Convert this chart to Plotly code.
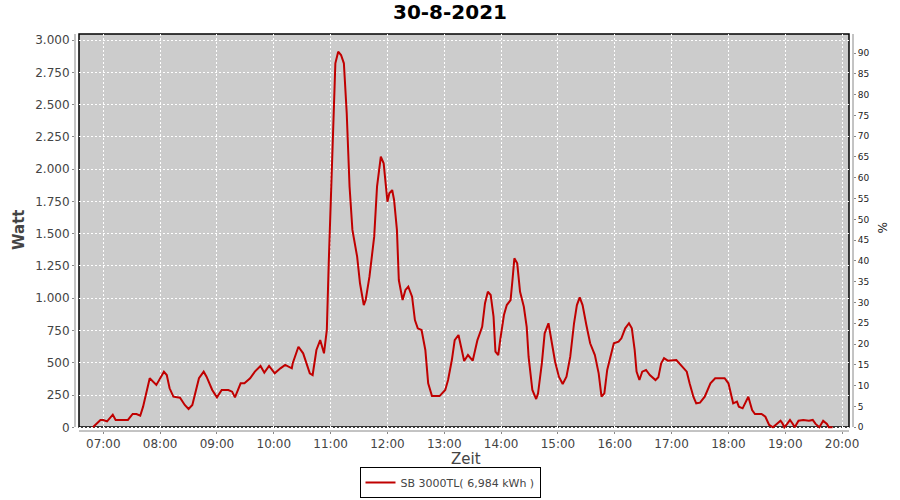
import plotly.graph_objects as go

DAY = "2021-08-30"
TITLE = "30-8-2021"
SERIES_NAME = "SB 3000TL( 6,984 kWh )"

times = [
    "06:49", "06:57", "07:00", "07:04", "07:10", "07:13", "07:26", "07:31", "07:35", "07:39",
    "07:42", "07:46", "07:49", "07:56", "08:00", "08:04", "08:07", "08:10", "08:14", "08:21",
    "08:26", "08:30", "08:34", "08:37", "08:41", "08:46", "08:49", "08:55", "09:00", "09:05",
    "09:12", "09:16", "09:19", "09:25", "09:29", "09:35", "09:40", "09:46", "09:50", "09:55",
    "10:01", "10:07", "10:12", "10:19", "10:20", "10:26", "10:31", "10:38", "10:41", "10:45",
    "10:49", "10:53", "10:56", "10:58", "11:01", "11:03", "11:05", "11:08", "11:11", "11:14",
    "11:17", "11:20", "11:23", "11:28", "11:31", "11:35", "11:37", "11:41", "11:46", "11:49",
    "11:53", "11:56", "11:58", "12:00", "12:02", "12:05", "12:07", "12:10", "12:12", "12:16",
    "12:19", "12:22", "12:26", "12:29", "12:32", "12:36", "12:40", "12:43", "12:47", "12:55",
    "13:01", "13:04", "13:08", "13:11", "13:15", "13:19", "13:21", "13:25", "13:30", "13:35",
    "13:40", "13:43", "13:46", "13:49", "13:52", "13:54", "13:57", "13:59", "14:03", "14:06",
    "14:10", "14:12", "14:14", "14:17", "14:20", "14:24", "14:27", "14:29", "14:33", "14:37",
    "14:39", "14:43", "14:46", "14:50", "14:53", "14:57", "15:01", "15:05", "15:09", "15:13",
    "15:17", "15:20", "15:23", "15:26", "15:30", "15:34", "15:39", "15:43", "15:46", "15:49",
    "15:52", "15:56", "15:59", "16:04", "16:07", "16:11", "16:15", "16:18", "16:21", "16:23",
    "16:26", "16:29", "16:33", "16:37", "16:43", "16:46", "16:49", "16:52", "16:56", "17:05",
    "17:11", "17:16", "17:19", "17:23", "17:26", "17:30", "17:35", "17:41", "17:46", "17:56",
    "18:00", "18:04", "18:05", "18:09", "18:11", "18:15", "18:19", "18:21", "18:25", "18:28",
    "18:35", "18:39", "18:43", "18:47", "18:51", "18:55", "18:57", "18:59", "19:02", "19:05",
    "19:08", "19:10", "19:14", "19:19", "19:25", "19:29", "19:32", "19:36", "19:40", "19:44",
    "19:46", "19:50",
]

watts = [
    0, 57, 57, 46, 98, 57, 57, 103, 103, 90,
    160, 289, 380, 328, 380, 431, 405, 302, 237, 229,
    173, 142, 173, 263, 380, 431, 392, 289, 232, 289,
    289, 276, 232, 341, 341, 380, 431, 475, 423, 475,
    418, 457, 483, 457, 496, 624, 573, 418, 405, 599,
    676, 573, 754, 1271, 1993, 2484, 2820, 2910, 2884, 2820,
    2433, 1864, 1529, 1322, 1116, 947, 986, 1167, 1477, 1864,
    2096, 2045, 1864, 1748, 1813, 1838, 1761, 1529, 1141, 986,
    1064, 1089, 1012, 831, 767, 754, 599, 341, 242, 242,
    289, 366, 521, 676, 715, 573, 514, 560, 516, 676,
    779, 961, 1050, 1025, 857, 586, 560, 676, 870, 947,
    986, 1141, 1309, 1270, 1050, 934, 779, 547, 289, 219,
    263, 496, 728, 806, 676, 508, 392, 335, 392, 547,
    806, 947, 1007, 947, 793, 651, 560, 418, 237, 263,
    444, 573, 651, 663, 689, 767, 806, 767, 599, 431,
    366, 431, 444, 405, 366, 387, 496, 535, 516, 521,
    475, 431, 341, 237, 186, 191, 237, 341, 380, 380,
    341, 225, 186, 199, 160, 147, 212, 237, 134, 103,
    103, 82, 18, 0, 26, 51, 31, 0, 26, 57,
    26, 0, 51, 57, 51, 57, 26, 0, 51, 26,
    0, 0,
]

watt_ticks = list(range(0, 3001, 250))
watt_tick_text = [f"{v:,}".replace(",", ".") for v in watt_ticks]
hour_ticks = [f"{h:02d}:00" for h in range(7, 21)]
pct_ticks = list(range(0, 91, 5))

x = [f"{DAY} {t}" for t in times]

LABEL_COLOR = "#444444"
AXIS_GRAY = "#888888"
FONT = "DejaVu Sans"

fig = go.Figure()
fig.add_trace(go.Scatter(
    x=x, y=watts, mode="lines", name=SERIES_NAME,
    line=dict(color="#C00000", width=2),
    yaxis="y",
))
# empty helper trace so the right-hand % axis is drawn
fig.add_trace(go.Scatter(
    x=[x[0]], y=[0], mode="lines", yaxis="y2", showlegend=False,
    hoverinfo="skip", line=dict(width=0),
))

grid = dict(showgrid=True, gridcolor="white", gridwidth=1, griddash="2px,2px")

fig.update_layout(
    width=900, height=500,
    margin=dict(l=75, r=47, t=34, b=69, autoexpand=False),
    paper_bgcolor="white",
    plot_bgcolor="rgba(0,0,0,0)",
    font=dict(family=FONT, size=12, color=LABEL_COLOR),
    title=dict(text=TITLE, x=0.5, xref="container", xanchor="center",
               y=1 - 12 / 500, yref="container", yanchor="middle",
               font=dict(family=FONT, size=20, color="black", weight="bold")),
    showlegend=True,
    legend=dict(orientation="h", xref="container", x=0.5, xanchor="center",
                yref="container", y=1 - 498 / 500, yanchor="bottom",
                bordercolor="black", borderwidth=1, bgcolor="white",
                font=dict(family=FONT, size=11, color=LABEL_COLOR),
                itemwidth=30, tracegroupgap=0),
    xaxis=dict(
        type="date",
        range=[f"{DAY} 06:30:07", f"{DAY} 20:11:31"],
        tickvals=[f"{DAY} {t}" for t in hour_ticks],
        ticktext=hour_ticks,
        ticks="outside", ticklen=2, tickcolor=AXIS_GRAY,
        showline=False, zeroline=False,
        tickfont=dict(family=FONT, size=12, color=LABEL_COLOR),
        **grid,
    ),
    yaxis=dict(
        range=[-28.7, 3047],
        tickvals=watt_ticks, ticktext=watt_tick_text,
        ticks="outside", ticklen=2, tickcolor=AXIS_GRAY,
        showline=False, zeroline=False,
        tickfont=dict(family=FONT, size=12, color=LABEL_COLOR),
        **grid,
    ),
    yaxis2=dict(
        overlaying="y", side="right", anchor="x",
        range=[-0.89, 94.57],
        tickvals=pct_ticks,
        ticks="outside", ticklen=2, tickcolor=AXIS_GRAY,
        showline=False, zeroline=False, showgrid=False,
        tickfont=dict(family=FONT, size=9, color="#222222"),
    ),
)

# plot background + frame (inset 4px from the axes, like the original)
W_PLOT, H_PLOT = 778, 397
fx0, fx1 = 4 / W_PLOT, 1 - 4 / W_PLOT
fy0, fy1 = 4 / H_PLOT, 1
fig.add_shape(type="rect", xref="paper", yref="paper", x0=fx0, x1=fx1, y0=fy0, y1=fy1,
              fillcolor="#CCCCCC", line=dict(width=0), layer="below")
fig.add_shape(type="rect", xref="paper", yref="paper", x0=fx0, x1=fx1, y0=fy0, y1=fy1,
              fillcolor="rgba(0,0,0,0)", line=dict(color="black", width=1.5), layer="between")
# axis lines
fig.add_shape(type="line", xref="paper", yref="paper", x0=fx0, x1=fx1, y0=0, y1=0,
              line=dict(color=AXIS_GRAY, width=1))
fig.add_shape(type="line", xref="paper", yref="paper", x0=0, x1=0, y0=fy0, y1=fy1,
              line=dict(color=AXIS_GRAY, width=1))
fig.add_shape(type="line", xref="paper", yref="paper", x0=1, x1=1, y0=fy0, y1=fy1,
              line=dict(color=AXIS_GRAY, width=1))

# axis titles
fig.add_annotation(text="<b>Watt</b>", xref="paper", yref="paper",
                   x=(19 - 75) / W_PLOT, y=(431 - 230) / H_PLOT, textangle=-90,
                   showarrow=False, xanchor="center", yanchor="middle",
                   font=dict(family=FONT, size=15, color=LABEL_COLOR))
fig.add_annotation(text="Zeit", xref="paper", yref="paper",
                   x=(466 - 75) / W_PLOT, y=(431 - 459) / H_PLOT,
                   showarrow=False, xanchor="center", yanchor="middle",
                   font=dict(family=FONT, size=15, color=LABEL_COLOR))
fig.add_annotation(text="%", xref="paper", yref="paper",
                   x=(882 - 75) / W_PLOT, y=(431 - 227) / H_PLOT, textangle=90,
                   showarrow=False, xanchor="center", yanchor="middle",
                   font=dict(family=FONT, size=12, color="#222222"))

fig.write_html("out.html", config={"displayModeBar": False},
               post_script="document.body.style.margin='0';")
